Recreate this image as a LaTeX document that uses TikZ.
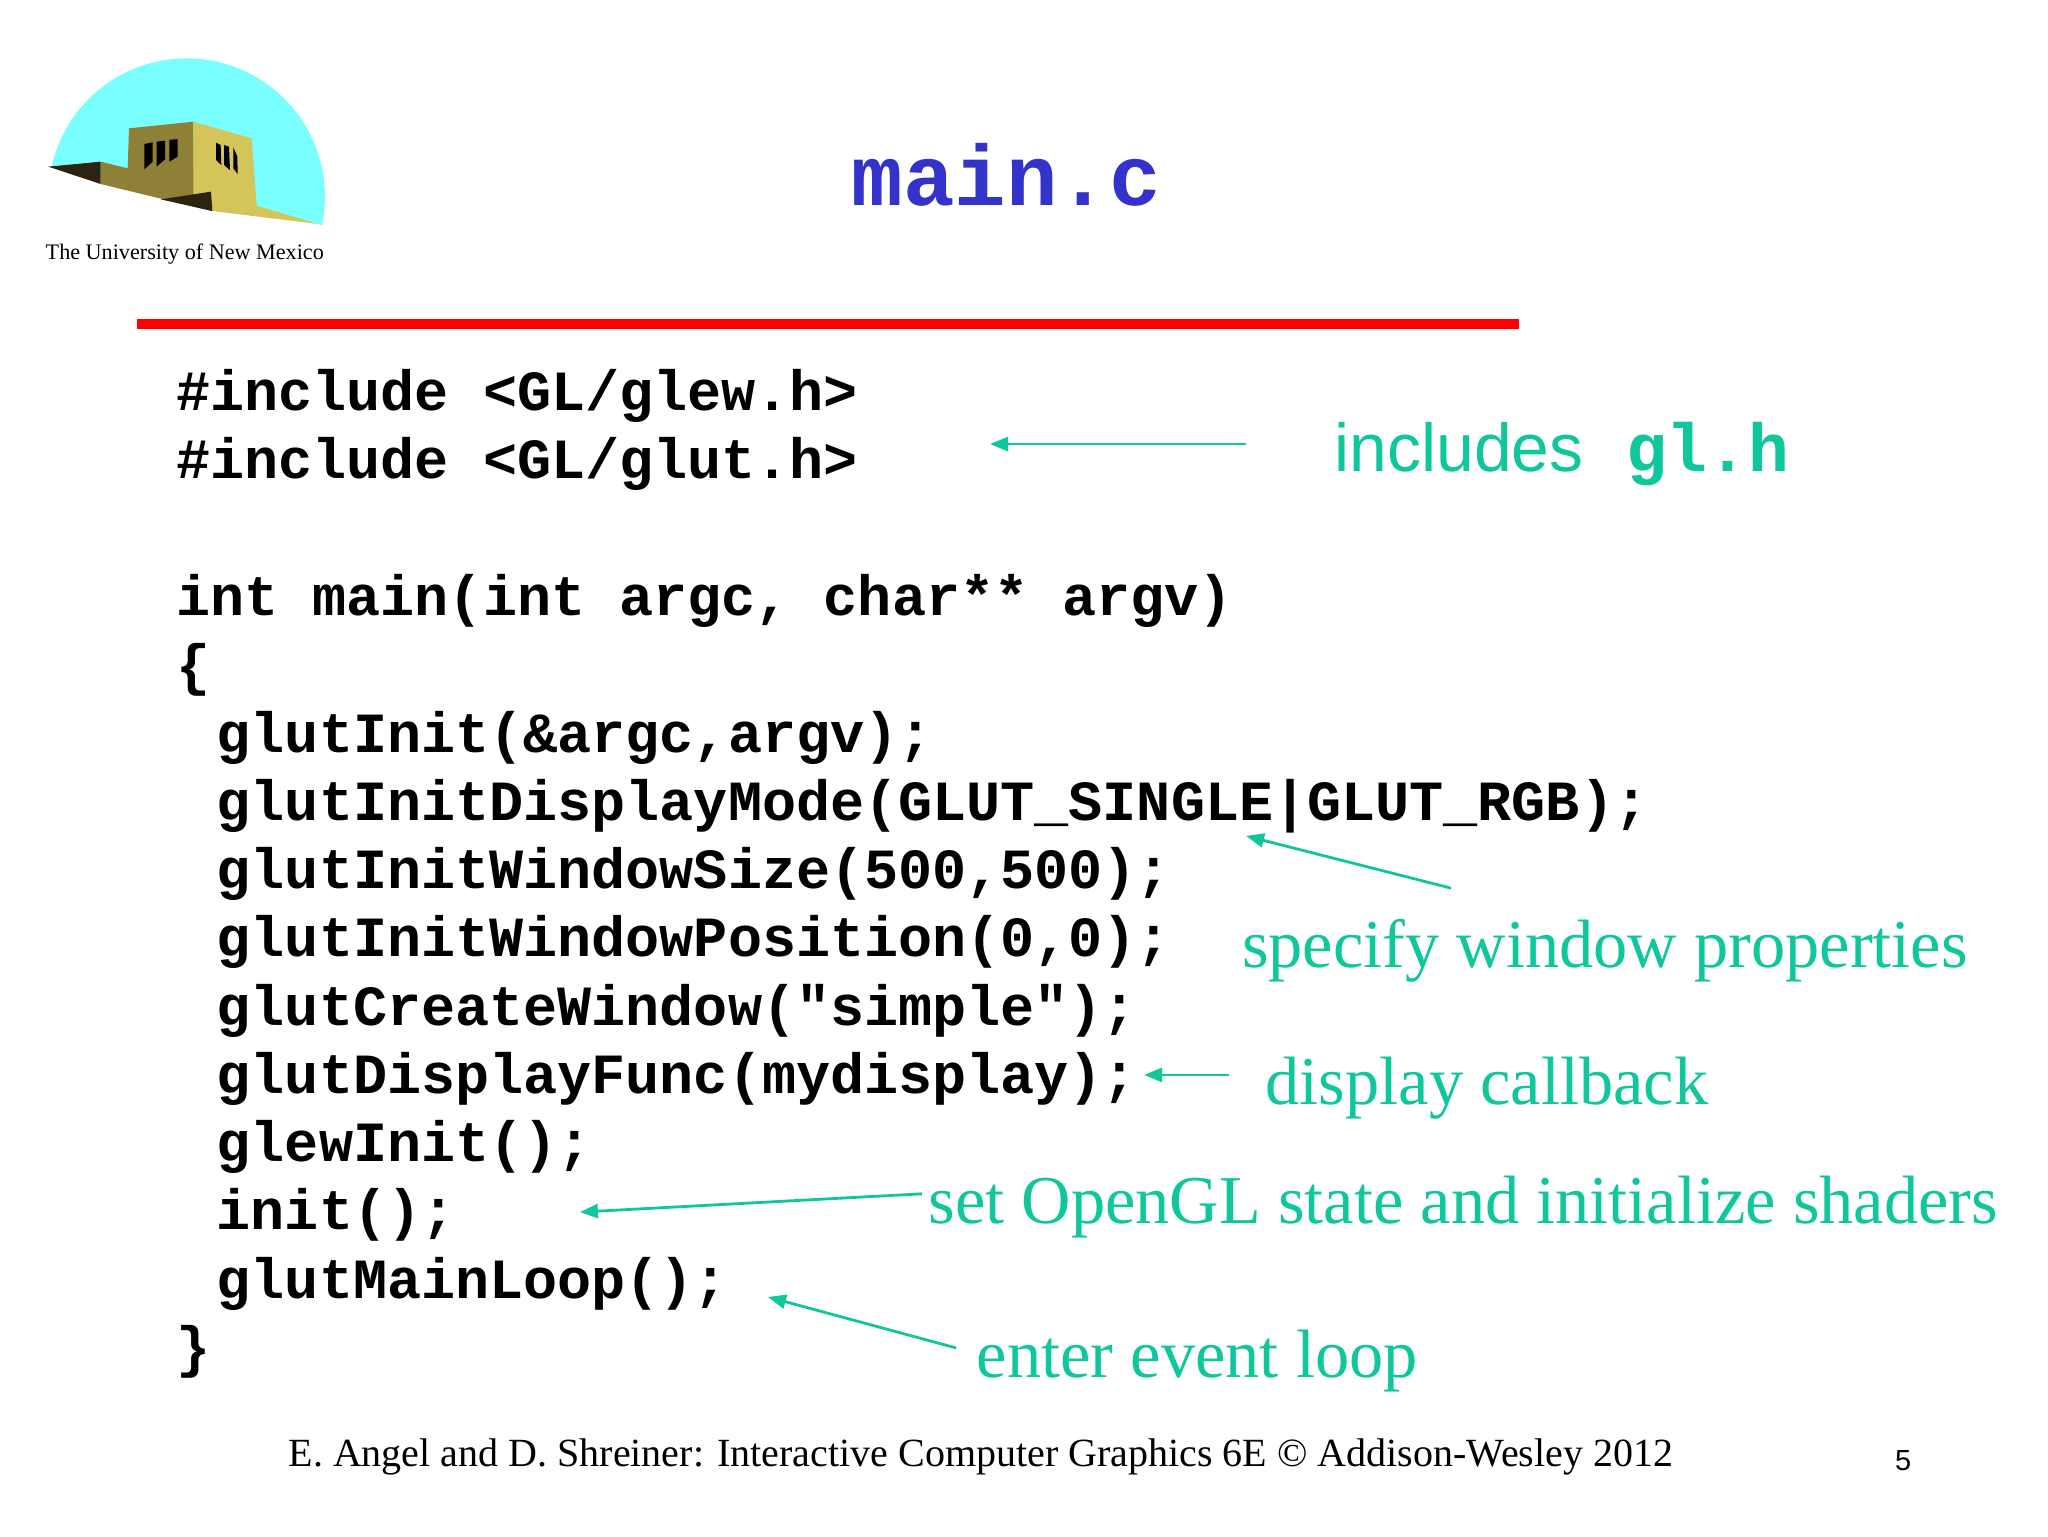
\documentclass[tikz,border=0pt]{standalone}
\usepackage{fontspec}
\setmainfont{Liberation Serif}
\newfontfamily\monofam{Liberation Mono}
\newfontfamily\sansfam{Liberation Sans}
\usetikzlibrary{arrows.meta}
\definecolor{notegreen}{HTML}{0FC79A}
\definecolor{titleblue}{HTML}{3333CC}
\tikzset{
  x=0.65306pt,y=-0.65306pt,
  txt/.style={anchor=base west,inner sep=0pt,outer sep=0pt},
  code/.style={txt,font=\monofam\bfseries\fontsize{28.4}{30}\selectfont,text=black},
  note/.style={txt,font=\fontsize{34.2}{40}\selectfont,text=notegreen},
  notearrow/.style={draw=notegreen,line width=1.4pt,-{Triangle[length=9pt,width=7pt]}},
}
\begin{document}
\begin{tikzpicture}
\useasboundingbox (0,0) rectangle (1568,1176);
\fill[white] (0,0) rectangle (1568,1176);
% logo
\begin{scope}[shift={(22.97,30.63)},scale=0.2552]
\fill[fill={rgb,255:red,122;green,255;blue,255}] (55,380) -- plot[domain=167:-12,samples=70] ({470+415*cos(\x)},{470-415*sin(\x)}) -- (865,552) -- cycle;
\fill[fill={rgb,255:red,143;green,128;blue,56}] (212,365) -- (293,385) -- (297,265) -- (490,245) -- (492,465) -- (545,513) -- (212,432) -- cycle;
\fill[fill={rgb,255:red,212;green,197;blue,90}] (490,245) -- (665,295) -- (680,497) -- (865,552) -- (547,513) -- (490,465) -- cycle;
\fill[fill={rgb,255:red,43;green,36;blue,18}] (55,380) -- (212,365) -- (212,432) -- cycle;
\fill[fill={rgb,255:red,43;green,36;blue,18}] (392,478) -- (543,455) -- (547,513) -- cycle;
\fill[black] (343,312) -- (368,307) -- (368,365) -- (343,388) -- cycle;
\fill[black] (380,305) -- (405,302) -- (405,358) -- (380,380) -- cycle;
\fill[black] (418,300) -- (443,297) -- (443,350) -- (418,365) -- cycle;
\fill[black] (558,308) -- (572,315) -- (574,375) -- (558,360) -- cycle;
\fill[black] (582,315) -- (597,320) -- (600,390) -- (582,375) -- cycle;
\fill[black] (610,322) -- (622,350) -- (623,402) -- (610,385) -- cycle;
\end{scope}
\node[txt,font=\fontsize{11.08}{12}\selectfont] (unm) at (35,198.5) {The University of New Mexico};
% title
\node[txt,font=\monofam\bfseries\fontsize{42.9}{44}\selectfont,text=titleblue] (title) at (652,157) {main.c};
\fill[red] (105,244) rectangle (1163,252);
% code
\node[code] (l1) at (135,314) {\#include <GL/glew.h>};
\node[code] (l2) at (135,366) {\#include <GL/glut.h>};
\node[code] (l3) at (135,471) {int main(int argc, char** argv)};
\node[code] (l4) at (135,524) {\{};
\node[code] (l5) at (166,576) {glutInit(\&argc,argv);};
\node[code] (l6) at (166,628) {glutInitDisplayMode(GLUT\_SINGLE|GLUT\_RGB);};
\node[code] (l7) at (166,680) {glutInitWindowSize(500,500);};
\node[code] (l8) at (166,732) {glutInitWindowPosition(0,0);};
\node[code] (l9) at (166,785) {glutCreateWindow("simple");};
\node[code] (l10) at (166,837) {glutDisplayFunc(mydisplay);};
\node[code] (l11) at (166,889) {glewInit();};
\node[code] (l12) at (166,941) {init();};
\node[code] (l13) at (166,994) {glutMainLoop();};
\node[code] (l14) at (135,1046) {\}};
% notes
\node[txt,font=\sansfam\fontsize{33.9}{36}\selectfont,text=notegreen] (n1) at (1022,361) {includes};
\node[txt,font=\monofam\bfseries\fontsize{34}{36}\selectfont,text=notegreen] (n1b) at (1245,361) {gl.h};
\node[note] (n2) at (951,741) {specify window properties};
\node[note] (n3) at (969,846) {display callback};
\node[note] (n4) at (711,937) {set OpenGL state and initialize shaders};
\node[note] (n5) at (748,1055) {enter event loop};
% connector ends
\coordinate (a1s) at (954,340); \coordinate (a1e) at (758,340);
\coordinate (a2s) at (1111,680); \coordinate (a2e) at (954,640);
\coordinate (a3s) at (941,823); \coordinate (a3e) at (876,823);
\coordinate (a4s) at (706,914); \coordinate (a4e) at (444,928);
\coordinate (a5s) at (732,1032); \coordinate (a5e) at (588,993);
\draw[notearrow] (a1s) -- (a1e);
\draw[notearrow] (a2s) -- (a2e);
\draw[notearrow] (a3s) -- (a3e);
\draw[notearrow] (a4s) -- (a4e);
\draw[notearrow] (a5s) -- (a5e);
% footer
\node[txt,font=\fontsize{20}{24}\selectfont] (foot) at (221,1123) {E. Angel and D. Shreiner: Interactive Computer Graphics 6E © Addison-Wesley 2012};
\node[txt,font=\sansfam\fontsize{14.5}{16}\selectfont] (page) at (1451,1126) {5};
\end{tikzpicture}
\end{document}
